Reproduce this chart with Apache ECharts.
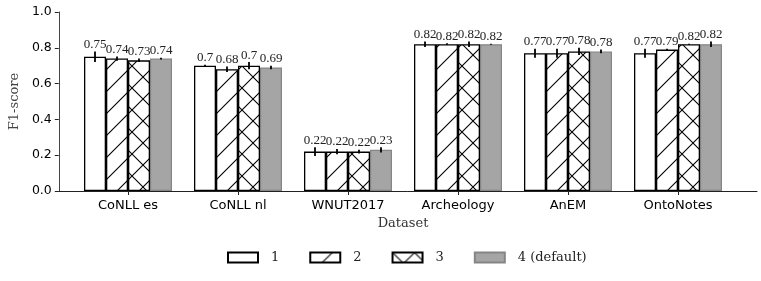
<!DOCTYPE html>
<html>
<head>
<meta charset="utf-8">
<script src="https://cdn.jsdelivr.net/npm/echarts@6/dist/echarts.min.js"></script>
<style>html,body{margin:0;padding:0;background:#fff;}#c{width:761px;height:281px;}</style>
</head>
<body>
<div id="c"></div>
<script>
const categories = ['CoNLL es', 'CoNLL nl', 'WNUT2017', 'Archeology', 'AnEM', 'OntoNotes'];
const seriesNames = ['1', '2', '3', '4 (default)'];
const values1 = [0.75, 0.70, 0.22, 0.82, 0.77, 0.77];
const values2 = [0.74, 0.68, 0.22, 0.82, 0.77, 0.79];
const values3 = [0.73, 0.70, 0.22, 0.82, 0.78, 0.82];
const values4 = [0.74, 0.69, 0.23, 0.82, 0.78, 0.82];
const errors1 = [0.030, 0.005, 0.025, 0.015, 0.025, 0.025];
const errors2 = [0.012, 0.015, 0.015, 0.005, 0.025, 0.005];
const errors3 = [0.010, 0.020, 0.010, 0.015, 0.020, 0.003];
const errors4 = [0.005, 0.010, 0.015, 0.003, 0.010, 0.015];
const yTicks = [0, 0.2, 0.4, 0.6, 0.8, 1.0];

const allValues = [values1, values2, values3, values4];
const allErrors = [errors1, errors2, errors3, errors4];

function makePattern(cross) {
  const T = 22;
  const c = document.createElement('canvas');
  c.width = T; c.height = T;
  const g = c.getContext('2d');
  g.fillStyle = '#fff';
  g.fillRect(0, 0, T, T);
  g.strokeStyle = '#000';
  g.lineWidth = 1.1;
  g.beginPath();
  for (const k of [0, T, 2 * T]) { g.moveTo(k + 2, -2); g.lineTo(k - T - 2, T + 2); }
  if (cross) {
    for (const k of [-T, 0, T]) { g.moveTo(k - 2, -2); g.lineTo(k + T + 2, T + 2); }
  }
  g.stroke();
  return { image: c, repeat: 'repeat' };
}

const styles = [
  { color: '#ffffff', borderColor: '#000', borderWidth: 1.3 },
  { color: makePattern(false), borderColor: '#000', borderWidth: 1.3 },
  { color: makePattern(true), borderColor: '#000', borderWidth: 1.3 },
  { color: '#a5a5a5', borderColor: '#858585', borderWidth: 1.2 }
];

const errData = [];
const errLabels = [];
for (let s = 0; s < 4; s++) {
  for (let i = 0; i < categories.length; i++) {
    errData.push([i, s, allValues[s][i], allErrors[s][i]]);
    errLabels.push(String(allValues[s][i]));
  }
}

const chart = echarts.init(document.getElementById('c'), null, { renderer: 'canvas' });

const barSeries = seriesNames.map((n, s) => ({
  name: n,
  type: 'bar',
  xAxisIndex: 1,
  yAxisIndex: 1,
  data: allValues[s],
  barGap: '0%',
  barCategoryGap: '20%',
  itemStyle: styles[s],
  emphasis: { disabled: true }
}));

const option = {
  animation: false,
  backgroundColor: '#fff',
  grid: [
    { left: 52, right: 4, top: 12, height: 179 },
    { left: 73, width: 660, top: 12, height: 179 }
  ],
  xAxis: [
    { gridIndex: 0, type: 'value', min: -0.69, max: 5.72,
      axisLine: { show: true, onZero: false, lineStyle: { color: '#222', width: 1 } },
      axisTick: { show: false }, axisLabel: { show: false }, splitLine: { show: false } },
    { gridIndex: 1, type: 'category', data: categories,
      axisLine: { show: false },
      axisTick: { show: true, alignWithLabel: true, length: 4, lineStyle: { color: '#222' } },
      axisLabel: { fontFamily: 'DejaVu Sans', fontSize: 13, color: '#000', margin: 8 },
      name: 'Dataset', nameLocation: 'middle', nameGap: 25,
      nameTextStyle: { fontFamily: 'DejaVu Serif', fontSize: 13, color: '#333' } }
  ],
  yAxis: [
    { gridIndex: 0, type: 'value', min: 0, max: 1, interval: 0.2,
      axisLine: { show: true, onZero: false, lineStyle: { color: '#444', width: 1 } },
      axisTick: { show: true, length: 4, lineStyle: { color: '#222' } },
      axisLabel: { fontFamily: 'DejaVu Sans', fontSize: 12.5, color: '#000', margin: 7,
        formatter: v => yTicks.includes(+v.toFixed(1)) ? v.toFixed(1) : '' },
      splitLine: { show: false },
      name: 'F1-score', nameLocation: 'middle', nameGap: 31,
      nameTextStyle: { fontFamily: 'DejaVu Serif', fontSize: 13, color: '#444' } },
    { gridIndex: 1, type: 'value', min: 0, max: 1, show: false, splitLine: { show: false } }
  ],
  legend: {
    data: seriesNames,
    left: 227, top: 251,
    padding: 0,
    icon: 'rect',
    itemWidth: 30, itemHeight: 10, itemGap: 30,
    textStyle: { fontFamily: 'DejaVu Serif', fontSize: 13, color: '#222', padding: [0, 0, 0, 8] }
  },
  series: barSeries.concat([{
    type: 'custom',
    xAxisIndex: 1,
    yAxisIndex: 1,
    z: 10,
    silent: true,
    data: errData,
    renderItem: function (params, api) {
      const ci = api.value(0), si = api.value(1), v = api.value(2), e = api.value(3);
      const band = api.size([1, 0])[0];
      const bw = band * 0.8 / 4;
      const cx = api.coord([ci, 0])[0] + (si - 1.5) * bw;
      const yTop = api.coord([ci, v + e])[1];
      const yBot = api.coord([ci, v - e])[1];
      return {
        type: 'group',
        children: [
          { type: 'line', shape: { x1: cx, y1: yTop, x2: cx, y2: yBot },
            style: { stroke: '#000', lineWidth: 1.8 } },
          { type: 'text', x: cx, y: yTop - 0.5,
            style: { text: errLabels[params.dataIndex], align: 'center', verticalAlign: 'bottom',
              font: '13px "Liberation Serif"', fill: '#222' } }
        ]
      };
    }
  }])
};
chart.setOption(option);
</script>
</body>
</html>
